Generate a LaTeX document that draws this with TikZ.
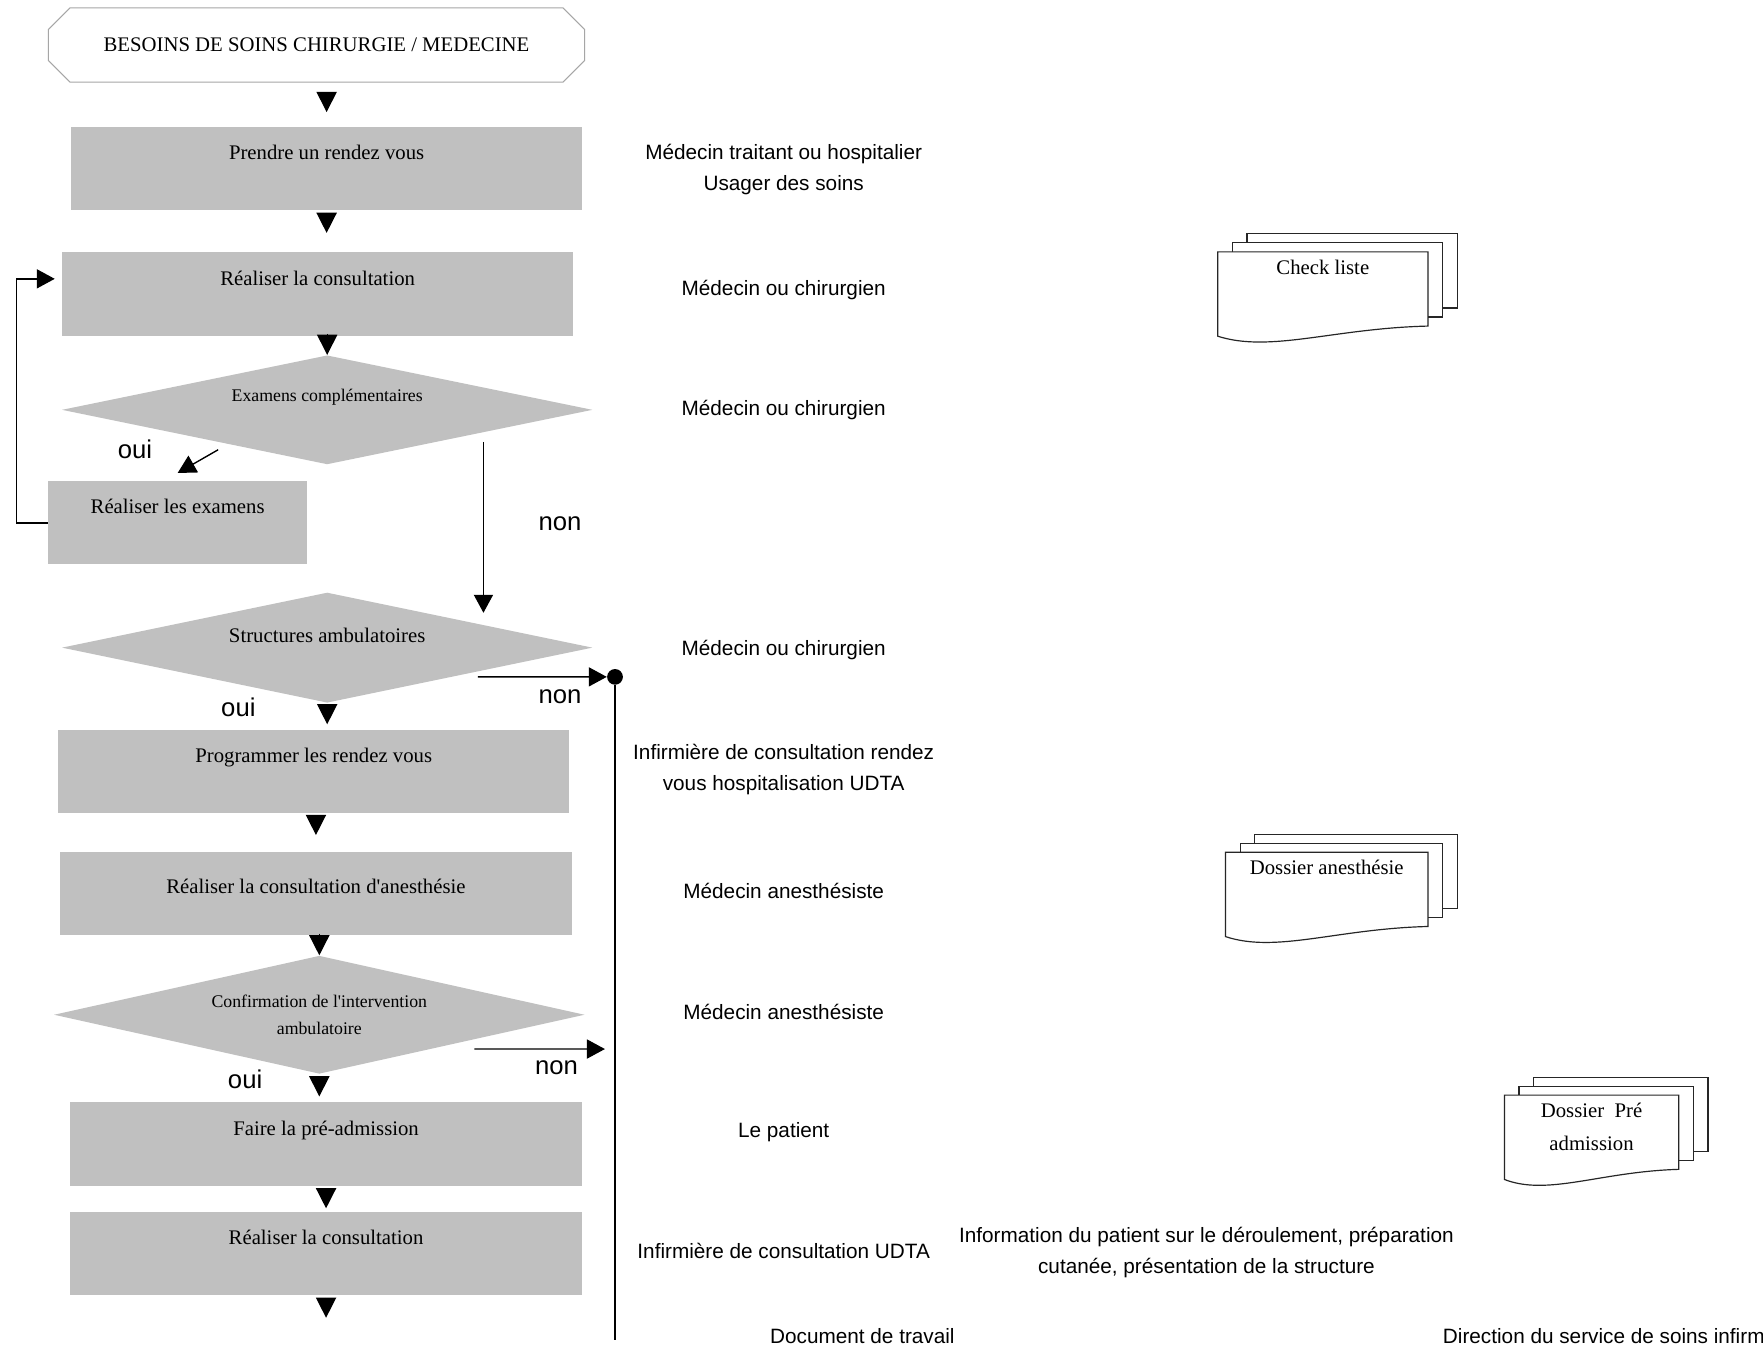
\documentclass[tikz,border=0pt]{standalone}
\usepackage{fontspec}
\setmainfont{Liberation Serif}
\setsansfont{Liberation Sans}
\usetikzlibrary{shapes.geometric}
\usetikzlibrary{shapes.misc}
\usetikzlibrary{arrows.meta}
\definecolor{grisfond}{RGB}{192,192,192}
\tikzset{
  debut/.style={chamfered rectangle, chamfered rectangle xsep=0.26cm, chamfered rectangle ysep=0.26cm,
    draw=gray!70, line width=0.5pt, fill=white, minimum width=9.54cm, minimum height=1.32cm, inner sep=0pt,
    font=\fontsize{10.5}{12}\selectfont},
  etape/.style={fill=grisfond, minimum width=9.1cm, minimum height=1.48cm, inner ysep=0pt,
    text height=0.58cm, text depth=0.9cm, font=\fontsize{10.5}{12}\selectfont},
  test/.style={diamond, fill=grisfond, shape aspect=4.8, minimum width=9.44cm, minimum height=1.94cm,
    inner sep=0pt, align=center, font=\fontsize{9}{14}\selectfont},
  acteur/.style={font=\sffamily\fontsize{10.5}{15.9}\selectfont, align=center},
  reponse/.style={font=\sffamily\fontsize{13}{15}\selectfont},
  fleche/.style={draw, line width=0.7pt, -{Triangle[length=0.32cm,width=0.34cm]}},
  pointe/.style={draw, line width=0.7pt, -{Triangle[length=0.36cm,width=0.36cm]}, shorten <=0.04cm, shorten >=#1},
  jonc/.style={circle, fill=black, minimum size=0.28cm, inner sep=0pt},
  doc/.style={draw=black!85, fill=white, line width=0.6pt},
  doctxt/.style={anchor=north, inner sep=0pt, align=center, font=\fontsize{10.5}{16.5}\selectfont}
}
% pile de documents : nom, x, y, largeur, texte
\newcommand{\pile}[5]{%
  \begin{scope}[shift={(#2,#3)}]
    \filldraw[doc] (26,-16) rectangle (#4+26,50);
    \filldraw[doc] (13,-8) rectangle (#4+13,58);
    \filldraw[doc] (0,0) -- (#4,0) -- (#4,66) .. controls (0.55*#4,68) and (0.25*#4,90) .. (0,75) -- cycle;
    \node[doctxt] (#1) at (0.5*#4,7) {#5};
  \end{scope}}

\begin{document}
\begin{tikzpicture}[x=0.02cm, y=-0.02cm]
  \useasboundingbox (0,0) rectangle (1568,1197);
  \fill[white] (0,0) rectangle (1568,1197);

  % etapes
  \node[debut] (besoin) at (281.5,40) {BESOINS DE SOINS CHIRURGIE / MEDECINE};
  \node[etape] (rdv) at (290.5,150) {Prendre un rendez vous};
  \node[etape] (consult) at (282.5,261.5) {Réaliser la consultation};
  \node[test, text height=0.3cm, text depth=0.6cm] (exam) at (291,364.5) {Examens complémentaires};
  \node[etape, minimum width=4.6cm] (examens) at (158,465) {Réaliser les examens};
  \node[test, minimum height=1.96cm, text height=0.35cm, text depth=0.55cm,
    font=\fontsize{10.5}{12}\selectfont] (struct) at (291,576) {Structures ambulatoires};
  \node[etape] (prog) at (279,686.5) {Programmer les rendez vous};
  \node[etape, text height=0.74cm, text depth=0.74cm] (anesth) at (281,795) {Réaliser la consultation d\textquotesingle anesthésie};
  \node[test, minimum height=2.1cm] (confirm) at (284,902.5) {Confirmation de l\textquotesingle intervention\\ambulatoire};
  \node[etape] (preadm) at (290,1017.5) {Faire la pré-admission};
  \node[etape] (consult2) at (290,1115) {Réaliser la consultation};
  \coordinate (suite) at (290,1172);

  % fleches principales
  \draw[pointe=0.26cm, shorten <=0.18cm] (besoin.south -| rdv.north) -- (rdv.north);
  \draw[pointe=0.34cm] (rdv.south) -- (rdv.south |- consult.north);
  \draw[pointe=0cm] (consult.south -| exam.north) -- (exam.north);
  \draw[pointe=0.1cm] (struct.south) -- (struct.south |- prog.north);
  \draw[pointe=0.3cm] (prog.south -| anesth.north) -- (anesth.north);
  \draw[pointe=0cm] (anesth.south -| confirm.north) -- (confirm.north);
  \draw[pointe=0.1cm] (confirm.south) -- (confirm.south |- preadm.north);
  \draw[pointe=0.06cm] (preadm.south) -- (preadm.south |- consult2.north);
  \draw[pointe=0cm] (consult2.south) -- (suite);

  % branches oui / non
  \draw[fleche] ([shift={(-1.94cm,-0.71cm)}]exam.center) -- ([yshift=0.14cm]examens.north);
  \draw[fleche, shorten >=0.12cm] (examens.west) -| ([xshift=-0.8cm,yshift=0.27cm]consult.west)
    -- ([yshift=0.27cm]consult.west);
  \draw[fleche] ([shift={(2.78cm,-0.57cm)}]exam.center) -- ([shift={(2.78cm,0.62cm)}]struct.center);
  \node[jonc] (jonction) at (547,602) {};
  \coordinate (retour) at (547,933);
  \coordinate (bas) at (547,1192);
  \draw[fleche] ([shift={(2.68cm,-0.52cm)}]struct.center) -- (jonction);
  \draw[line width=0.7pt] (jonction) -- (bas);
  \draw[fleche, shorten >=0.18cm] ([shift={(2.76cm,-0.61cm)}]confirm.center) -- (retour);

  \node[reponse] (oui1) at (120,400) {oui};
  \node[reponse] (non1) at (498,466) {non};
  \node[reponse] (oui2) at (212,629) {oui};
  \node[reponse] (non2) at (498,620) {non};
  \node[reponse] (oui3) at (218,960) {oui};
  \node[reponse] (non3) at (495,950) {non};

  % acteurs
  \node[acteur] (a1) at (697,151) {Médecin traitant ou hospitalier\\Usager des soins};
  \node[acteur] (a2) at (697,258) {Médecin ou chirurgien};
  \node[acteur] (a3) at (697,365) {Médecin ou chirurgien};
  \node[acteur] (a4) at (697,578) {Médecin ou chirurgien};
  \node[acteur] (a5) at (697,684.5) {Infirmière de consultation rendez\\vous hospitalisation UDTA};
  \node[acteur] (a6) at (697,792) {Médecin anesthésiste};
  \node[acteur] (a7) at (697,900) {Médecin anesthésiste};
  \node[acteur] (a8) at (697,1007) {Le patient};
  \node[acteur] (a9) at (697,1113) {Infirmière de consultation UDTA};
  \node[acteur] (info) at (1073,1114) {Information du patient sur le déroulement, préparation\\cutanée, présentation de la structure};
  \node[acteur] (travail) at (767,1188) {Document de travail};
  \node[acteur, anchor=west, inner sep=0pt] (direction) at (1283,1188) {Direction du service de soins infirmiers};

  % documents
  \pile{check}{1083}{224}{187}{Check liste}
  \pile{dossanesth}{1090}{758}{180}{Dossier anesthésie}
  \pile{dosspre}{1338}{974}{155}{Dossier\ \ Pré\\admission}
\end{tikzpicture}
\end{document}
